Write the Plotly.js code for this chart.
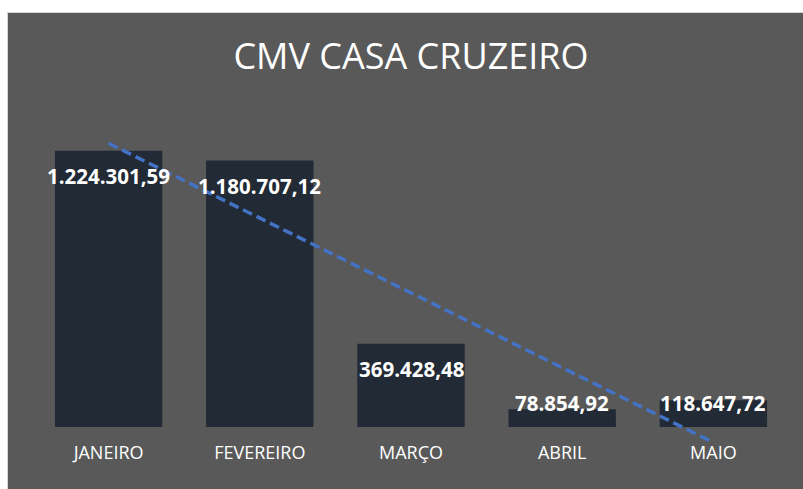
<!DOCTYPE html>
<html>
<head>
<meta charset="utf-8">
<script src="https://cdn.plot.ly/plotly-3.0.1.min.js"></script>
<style>
  html, body { margin: 0; padding: 0; background: #ffffff; width: 803px; height: 489px; overflow: hidden; }
  #frame { position: absolute; left: 7px; top: 12px; width: 796px; height: 477px; border-left: 1px solid #d4d4d4; border-top: 1px solid #d4d4d4; box-sizing: border-box; }
  #chart { position: absolute; left: 8px; top: 13px; width: 795px; height: 476px; }
</style>
</head>
<body>
<div id="frame"></div>
<div id="chart"></div>
<script>
// Data
const months = ['JANEIRO', 'FEVEREIRO', 'MARÇO', 'ABRIL', 'MAIO'];
const cmvValues = [1224301.59, 1180707.12, 369428.48, 78854.92, 118647.72];
const valueLabels = ['1.224.301,59', '1.180.707,12', '369.428,48', '78.854,92', '118.647,72'];

// Linear trendline (least squares over category index), as Excel's trendline
const n = cmvValues.length;
const xs = cmvValues.map((_, i) => i + 1);
const mx = xs.reduce((a, b) => a + b, 0) / n;
const my = cmvValues.reduce((a, b) => a + b, 0) / n;
let sxy = 0, sxx = 0;
for (let i = 0; i < n; i++) { sxy += (xs[i] - mx) * (cmvValues[i] - my); sxx += (xs[i] - mx) * (xs[i] - mx); }
const slope = sxy / sxx;
const intercept = my - slope * mx;
const trendValues = xs.map(x => intercept + slope * x);

// Layout geometry
const plotH = 333;
const yRange = [-75000, 1400000];
const unitsPerPx = (yRange[1] - yRange[0]) / plotH;

const annotations = cmvValues.map((v, i) => ({
  x: months[i], xref: 'x', yref: 'y',
  y: Math.max(v - 25 * unitsPerPx, 24.5 * unitsPerPx),
  text: valueLabels[i], showarrow: false,
  xanchor: 'center', yanchor: 'middle',
  font: { family: 'Open Sans', size: 20.5, color: '#ffffff', weight: 'bold' }
}));

const traces = [
  {
    type: 'bar', x: months, y: cmvValues,
    marker: { color: '#222a35', line: { width: 0 } },
    hoverinfo: 'skip', showlegend: false
  },
  {
    type: 'scatter', mode: 'lines', x: months, y: trendValues,
    line: { color: '#4472c4', width: 3.5, dash: '10px,5px' },
    hoverinfo: 'skip', showlegend: false
  }
];

const layout = {
  width: 795, height: 476,
  paper_bgcolor: '#595959', plot_bgcolor: '#595959',
  margin: { l: 25, r: 14, t: 98, b: 476 - 98 - plotH, pad: 0 },
  bargap: 0.29,
  showlegend: false,
  title: {
    text: 'CMV CASA CRUZEIRO',
    font: { family: 'Open Sans', size: 36, color: '#ffffff' },
    xref: 'paper', x: 0.5, xanchor: 'center',
    yref: 'container', y: 1 - 43 / 476, yanchor: 'middle'
  },
  xaxis: {
    type: 'category', showgrid: false, zeroline: false, showline: false,
    anchor: 'free', position: 4 / plotH,
    ticks: '', tickfont: { family: 'Open Sans', size: 18, color: '#ffffff' },
    fixedrange: true
  },
  yaxis: {
    range: yRange, visible: false, showgrid: false, zeroline: false, fixedrange: true
  },
  annotations: annotations
};

Plotly.newPlot('chart', traces, layout, { displayModeBar: false, staticPlot: true });
</script>
</body>
</html>
